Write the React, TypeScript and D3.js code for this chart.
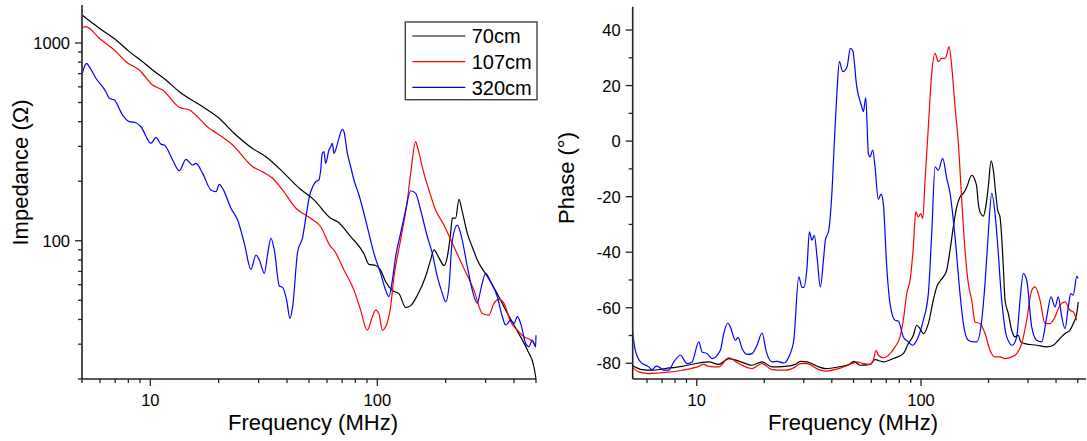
import React from "react";
import * as d3 from "d3";

// ---------- DATA ----------
const seriesNames = ["70cm", "107cm", "320cm"];
const seriesColors = ["#000000", "#ff0000", "#0000ff"];

// Impedance (Ohm) vs frequency (MHz)
const imp70cm: [number, number][] = [
  [5, 1385], [5.96, 1187], [7.06, 1036], [8.08, 904], [9.25, 804], [10.23, 730], [11.71, 650], [13.42, 567],
  [17.0, 476], [20.1, 416], [23.0, 356], [28.2, 293], [32.3, 266], [38.3, 223], [43.8, 191], [45.9, 182],
  [52.6, 161], [62.3, 130], [66.6, 125], [76.3, 105], [87.3, 86], [91.8, 76], [98.3, 75], [103.4, 71],
  [108.8, 62], [116.5, 56], [124.5, 54], [133.3, 46], [140.2, 47], [150.1, 53], [163.2, 66], [171.7, 80],
  [177.6, 90], [186.8, 82], [196.5, 75], [203.4, 83], [210.3, 109], [214, 130], [221.3, 130], [228.8, 162],
  [236.8, 140], [249.2, 109], [262, 93], [275.7, 80], [305.2, 66], [337.8, 54], [373.8, 43], [413.7, 35],
  [458, 28], [489.7, 23], [500, 20],
];
const imp107cm: [number, number][] = [
  [5, 1201], [5.2, 1209], [5.96, 1056], [7.06, 904], [7.81, 804], [8.94, 730], [10.23, 613], [11.33, 578],
  [13.42, 473], [14.85, 458], [18.19, 370], [19.45, 352], [23.05, 305], [28.23, 237], [31.23, 223], [34.57, 207],
  [38.26, 180.5], [43.8, 146], [50.8, 130], [56.3, 117.7], [62.3, 93.3], [64.4, 89.7], [71.3, 71.1], [78.9, 56.3],
  [84.4, 44.6], [90.3, 35.3], [95.1, 41.3], [98.3, 44.6], [101.6, 42.9], [105.2, 35.3], [108.8, 36.7], [114.4, 46.4],
  [118.4, 65.8], [126.6, 100.8], [135.6, 160.6], [140.2, 219], [147.5, 316.8], [150.1, 299], [160.4, 219],
  [168.8, 180.5], [180.6, 143], [196.5, 120], [217.5, 93.3], [240.7, 72.5], [266.5, 56.3], [290.1, 42.9],
  [310.1, 42.1], [326.4, 48.3], [343.4, 50.5], [361.2, 48.3], [386.6, 38.9], [413.7, 35.3], [442.5, 32.7],
  [473.6, 31.5], [489.7, 30.3], [500, 29.3],
];
const imp320cm: [number, number][] = [
  [5, 689], [5.12, 759], [5.24, 789], [5.38, 759], [5.76, 663], [6.37, 567], [6.6, 525], [6.94, 515], [7.55, 432],
  [8.08, 400], [8.64, 395], [9.09, 377], [10.06, 311], [10.59, 333], [11.13, 308], [11.52, 305], [12.54, 256],
  [13.42, 226], [14.35, 258], [15.36, 241.5], [15.88, 246], [17.0, 219], [18.49, 180.5], [19.45, 177], [20.14, 193],
  [20.83, 184], [22.65, 146], [24.24, 127.3], [25.95, 97], [27.75, 71.7], [29.19, 84.7], [30.22, 79.9], [31.79, 68.4],
  [32.86, 85.6], [33.99, 102.8], [35.18, 89.7], [37.02, 59], [38.26, 58.1], [39.85, 50.1], [41.21, 40.5], [42.36, 46.4],
  [44.56, 88], [46.88, 104], [48.48, 132.2], [50.18, 167], [51.9, 187.6], [53.5, 198.8], [55.3, 202.8], [56.3, 227.9],
  [57.2, 276.7], [58.2, 282], [59.2, 246], [61.2, 287.6], [62.3, 299], [63.4, 311], [64.4, 276.7], [65.5, 287.6],
  [67.7, 329.6], [70.1, 366], [71.3, 356], [73.8, 276.7], [76.3, 236.8], [78.9, 202.8], [83, 170.3], [87.3, 137.6],
  [91.8, 109], [96.6, 86.4], [103.4, 68.4], [108.8, 56.3], [112.5, 52.1], [116.5, 63.3], [120.4, 83], [126.6, 109],
  [133.3, 143], [140.2, 179], [147.5, 173.7], [155.1, 143], [166.1, 104.8], [174.7, 86.4], [183.8, 65.8], [193.3, 54.2],
  [200, 49.1], [206.8, 58.5], [214, 100.8], [225.1, 120], [232.8, 109], [249.2, 73.9], [262, 56.3], [275.7, 48.3],
  [285.2, 56.3], [300, 68.4], [315.6, 62], [337.8, 52.1], [355.4, 41.3], [367.5, 37.5], [386.6, 39.7], [399.9, 38.2],
  [413.7, 41.3], [427.9, 38.2], [450.1, 30.3], [465.4, 29.1], [481.6, 31.5], [498, 29.1], [500, 33.3],
];

// Phase (deg) vs frequency (MHz)
const phase70cm: [number, number][] = [
  [5.15, -80.7], [5.71, -82.3], [6.32, -82.5], [7.24, -81.9], [8.6, -81.1], [10.21, -79.9], [11.31, -79.5],
  [12.53, -80.4], [13.89, -78.3], [15.39, -79.2], [17.64, -80.7], [19.55, -79.5], [21.67, -81.3], [24.83, -81.1],
  [27.52, -80.4], [28.97, -79.3], [31.03, -79.5], [34.99, -81.3], [37.43, -81.9], [42.97, -81.3], [47.62, -80.5],
  [50.12, -79.3], [53.46, -80.7], [59.24, -80.4], [62.35, -78.7], [67.9, -79.5], [75.25, -78.3], [83.39, -76.5],
  [87.78, -72.9], [92.41, -69.9], [95.68, -66.3], [98.97, -67.5], [102.4, -69.3], [107.8, -65.7], [113.4, -57.3],
  [117.5, -52.5], [125.7, -48.9], [130.2, -46.5], [134.7, -39.3], [139.3, -30.9], [144.3, -23.7], [149.2, -20.1],
  [154.4, -18.8], [159.9, -16.5], [168.3, -12.3], [174.1, -14.1], [177.2, -16.5], [180.1, -22.5], [184.6, -26.1],
  [189.6, -27.0], [194.3, -23.7], [199.5, -16.5], [205.2, -7.1], [210.1, -10.5], [215.3, -18.8], [219.8, -24.9],
  [225, -27.3], [232.8, -45.3], [236.9, -57.3], [245, -62.1], [253.7, -68.1], [262.5, -70.5], [271.5, -69.9],
  [278.3, -72.3], [290.9, -72.9], [328, -73.5], [363.4, -74.1], [388.9, -73.5], [409.4, -71.7], [438.5, -69.3],
  [461.6, -68.1], [477.5, -65.7], [494.5, -62.1], [502.6, -57.9],
];
const phase107cm: [number, number][] = [
  [5.15, -81.3], [5.51, -83.1], [6.11, -83.7], [6.77, -83.5], [7.24, -83.3], [8.6, -82.5], [10.21, -81.1],
  [10.74, -80.4], [11.31, -81.1], [12.53, -81.3], [13.89, -78.0], [15.39, -80.1], [17.64, -81.9], [19.55, -80.1],
  [21.67, -82.3], [24.83, -82.5], [27.52, -81.3], [28.97, -80.1], [31.03, -80.1], [34.99, -82.3], [37.43, -82.8],
  [42.97, -81.9], [49.3, -80.1], [51.68, -79.5], [55.32, -80.1], [59.24, -80.4], [61.27, -78.9], [63.0, -75.3],
  [64.5, -77.1], [67.9, -78.0], [72.75, -76.5], [76.58, -74.1], [80.6, -70.5], [83.39, -64.5], [86.36, -54.9],
  [89.33, -50.1], [92.41, -38.1], [94.71, -25.5], [97.28, -27.3], [99.7, -26.1], [101.8, -27.9], [104.2, -14.1],
  [107.8, 5.2], [111.6, 24.4], [115.5, 31.6], [119.4, 28.6], [123.7, 29.8], [127.9, 29.8], [130.2, 31.0],
  [133.3, 34.0], [137.1, 26.8], [141.8, 12.4], [146.7, -0.8], [151.9, -21.3], [157.1, -39.3], [162.5, -51.3],
  [168.3, -57.3], [174.1, -65.1], [183.2, -65.7], [192.9, -69.3], [203, -75.3], [213.8, -77.7], [225, -77.7],
  [236.9, -78.3], [253.7, -77.7], [267.1, -76.5], [281.2, -72.9], [296, -64.5], [311.5, -53.7], [322.3, -52.5],
  [339.3, -57.3], [357.3, -65.7], [376, -65.7], [395.7, -63.3], [416.6, -59.1], [438.5, -57.9], [461.6, -60.9],
  [477.5, -61.5], [494.5, -64.5],
];
const phase320cm: [number, number][] = [
  [5.15, -67.5], [5.32, -75.3], [5.61, -79.5], [6.11, -81.3], [6.32, -82.3], [6.59, -81.0], [6.77, -81.3],
  [7.13, -82.5], [7.5, -82.5], [7.9, -79.5], [8.45, -77.1], [9.05, -80.1], [9.53, -79.5], [10.21, -72.3],
  [10.56, -75.9], [11.11, -76.5], [11.7, -78.3], [12.74, -75.3], [13.19, -69.3], [13.75, -65.5], [14.12, -66.9],
  [14.86, -71.7], [15.28, -70.7], [15.92, -74.7], [16.76, -76.8], [17.64, -76.5], [18.57, -73.5], [19.55, -69.1],
  [20.43, -75.9], [21.67, -79.5], [22.8, -79.3], [24.43, -79.9], [25.72, -77.7], [27.07, -71.7], [28.5, -48.9],
  [29.48, -52.7], [29.99, -52.7], [31.03, -45.3], [31.77, -32.7], [32.66, -35.7], [33.44, -33.9], [34.38, -41.7],
  [35.56, -52.5], [36.82, -41.7], [37.43, -35.7], [38.77, -32.1], [40.11, -17.7], [41.23, 2.8], [42.23, 18.4],
  [43.24, 28.6], [44.77, 25.0], [46.8, 26.8], [48.41, 33.4], [49.62, 32.5], [51.68, 19.6], [54.4, 12.4],
  [55.32, 10.6], [56.7, 15.7], [58.23, -4.4], [59.24, -5.7], [60.9, -3.2], [62.35, -9.3], [64.5, -21.0],
  [66.32, -19.1], [67.9, -22.5], [70.33, -45.3], [72.75, -58.5], [76.58, -64.5], [79.22, -64.8], [83.39, -70.5],
  [87.78, -72.3], [91.83, -73.5], [95.68, -71.7], [102.4, -64.5], [107.8, -54.9], [111.6, -33.3], [115.5, -9.3],
  [119.4, -10.5], [124.9, -6.2], [130.2, -13.4], [134.7, -18.8], [141.8, -34.5], [149.2, -54.9], [154.4, -65.7],
  [162.5, -71.7], [171.1, -72.3], [177.2, -72.3], [186.5, -64.5], [192.9, -51.3], [199.5, -33.3], [206.7, -18.8],
  [213.8, -26.1], [218.9, -35.7], [229, -57.3], [241.1, -70.5], [255.3, -73.5], [267.1, -70.5], [276.3, -57.3],
  [285.8, -47.7], [296, -50.1], [311.5, -66.9], [328, -71.7], [345.2, -72.3], [363.4, -63.3], [379.8, -56.1],
  [395.7, -59.7], [409.4, -56.1], [424, -63.3], [438.5, -67.5], [453.6, -59.7], [464.9, -54.9], [477.5, -55.5],
  [494.5, -48.7], [502.6, -49.5],
];

const impLabelTicks = [100, 1000];
const freqLabelTicks = [10, 100];
const phaseLabelTicks = [-80, -60, -40, -20, 0, 20, 40];
const phaseMinorTicks = [-70, -50, -30, -10, 10, 30];

const impSeries = [imp70cm, imp107cm, imp320cm];
const phaseSeries = [phase70cm, phase107cm, phase320cm];

// ---------- LAYOUT ----------
const W = 1087;
const H = 441;
const FONT = '"Liberation Sans", Arial, Helvetica, sans-serif';
const AXIS = "#222";
const MAJ = 7;
const MIN = 4;

const L = { x0: 82, x1: 536, y0: 379, y1: 5 };
const R = { x0: 632.7, x1: 1086, y0: 379, y1: 6.7 };

const xL = d3.scaleLog().domain([5, 500]).range([L.x0, L.x1]);
const yL = d3.scaleLog().domain([20, 1556]).range([L.y0, L.y1]);
const xR = d3.scaleLog().domain([5.18, 544]).range([R.x0, R.x1]);
const yR = d3.scaleLinear().domain([-85.66, 48.4]).range([R.y0, R.y1]);

function makePath(data: [number, number][], x: any, y: any) {
  const pts: [number, number][] = [];
  const sorted = [...data].sort((a, b) => a[0] - b[0]);
  for (const d of sorted) {
    const px = x(d[0]);
    if (pts.length && px <= pts[pts.length - 1][0] + 0.01) continue;
    pts.push([px, y(d[1])]);
  }
  return d3.line().curve(d3.curveMonotoneX)(pts) || "";
}

function XAxis({ x, x0, x1, y0, allTicks }: any) {
  return (
    <g>
      <line x1={x0} x2={x1} y1={y0} y2={y0} stroke={AXIS} strokeWidth={1.6} />
      {allTicks.map((t: number) => {
        const major = freqLabelTicks.includes(t);
        const px = x(t);
        return (
          <g key={"xt" + t}>
            <line x1={px} x2={px} y1={y0} y2={y0 + (major ? MAJ : MIN)} stroke={AXIS} strokeWidth={1.3} />
            {major && (
              <text x={px} y={y0 + 27} textAnchor="middle" fontSize={16.5} fontFamily={FONT} fill="#000">
                {String(t)}
              </text>
            )}
          </g>
        );
      })}
    </g>
  );
}

export default function App() {
  const xTicksL = xL.ticks().filter((t: number) => t >= 5 && t <= 500);
  const xTicksR = xR.ticks().filter((t: number) => t >= 5.18 && t <= 544);
  const yTicksL = yL.ticks().filter((t: number) => t >= 20 && t <= 1556);

  return (
    <svg
      width={W}
      height={H}
      viewBox={`0 0 ${W} ${H}`}
      style={{ position: "absolute", left: 0, top: 0, display: "block", background: "#fff" }}
    >
      <defs>
        <clipPath id="clipL">
          <rect x={L.x0 + 0.5} y={0} width={L.x1 - L.x0 + 2} height={L.y0} />
        </clipPath>
        <clipPath id="clipR">
          <rect x={R.x0 + 0.5} y={0} width={R.x1 - R.x0 + 2} height={R.y0} />
        </clipPath>
      </defs>
      <rect x={0} y={0} width={W} height={H} fill="#fff" />

      {/* ---- Left panel: impedance ---- */}
      <g clipPath="url(#clipL)">
        {impSeries.map((s, i) => (
          <path key={"il" + i} d={makePath(s, xL, yL)} fill="none" stroke={seriesColors[i]} strokeWidth={1.2} strokeLinejoin="round" />
        ))}
      </g>
      <line x1={L.x0} x2={L.x0} y1={L.y1} y2={L.y0} stroke={AXIS} strokeWidth={1.6} />
      {yTicksL.map((t: number) => {
        const major = impLabelTicks.includes(t);
        const py = yL(t);
        return (
          <g key={"yl" + t}>
            <line x1={L.x0 - (major ? MAJ : MIN)} x2={L.x0} y1={py} y2={py} stroke={AXIS} strokeWidth={1.3} />
            {major && (
              <text x={L.x0 - 12} y={py} dy="0.36em" textAnchor="end" fontSize={16.5} fontFamily={FONT} fill="#000">
                {String(t)}
              </text>
            )}
          </g>
        );
      })}
      <XAxis x={xL} x0={L.x0} x1={L.x1} y0={L.y0} allTicks={xTicksL} />
      <text x={313} y={430} textAnchor="middle" fontSize={22} fontFamily={FONT} fill="#000">
        Frequency (MHz)
      </text>
      <text transform="translate(28.3,172.5) rotate(-90)" textAnchor="middle" fontSize={22} fontFamily={FONT} fill="#000">
        Impedance (Ω)
      </text>

      {/* Legend */}
      <g>
        <rect x={405.3} y={22} width={131.7} height={77.7} fill="#fff" stroke="#444" strokeWidth={1.4} />
        {seriesNames.map((n, i) => {
          const cy = 36 + i * 25.7;
          return (
            <g key={"lg" + i}>
              <line x1={412.3} x2={465.3} y1={cy} y2={cy} stroke={seriesColors[i]} strokeWidth={1.2} />
              <text x={471.7} y={cy + 7.3} fontSize={20} fontFamily={FONT} fill="#000">
                {n}
              </text>
            </g>
          );
        })}
      </g>

      {/* ---- Right panel: phase ---- */}
      <g clipPath="url(#clipR)">
        {phaseSeries.map((s, i) => (
          <path key={"pr" + i} d={makePath(s, xR, yR)} fill="none" stroke={seriesColors[i]} strokeWidth={1.2} strokeLinejoin="round" />
        ))}
      </g>
      <line x1={R.x0} x2={R.x0} y1={R.y1} y2={R.y0} stroke={AXIS} strokeWidth={1.6} />
      {[...phaseLabelTicks, ...phaseMinorTicks].map((t: number) => {
        const major = phaseLabelTicks.includes(t);
        const py = yR(t);
        return (
          <g key={"yr" + t}>
            <line x1={R.x0 - (major ? MAJ : MIN)} x2={R.x0} y1={py} y2={py} stroke={AXIS} strokeWidth={1.3} />
            {major && (
              <text x={R.x0 - 12} y={py} dy="0.36em" textAnchor="end" fontSize={16.5} fontFamily={FONT} fill="#000">
                {String(t)}
              </text>
            )}
          </g>
        );
      })}
      <XAxis x={xR} x0={R.x0} x1={R.x1} y0={R.y0} allTicks={xTicksR} />
      <text x={853} y={430} textAnchor="middle" fontSize={22} fontFamily={FONT} fill="#000">
        Frequency (MHz)
      </text>
      <text transform="translate(574,178) rotate(-90)" textAnchor="middle" fontSize={22} fontFamily={FONT} fill="#000">
        Phase (°)
      </text>
    </svg>
  );
}
